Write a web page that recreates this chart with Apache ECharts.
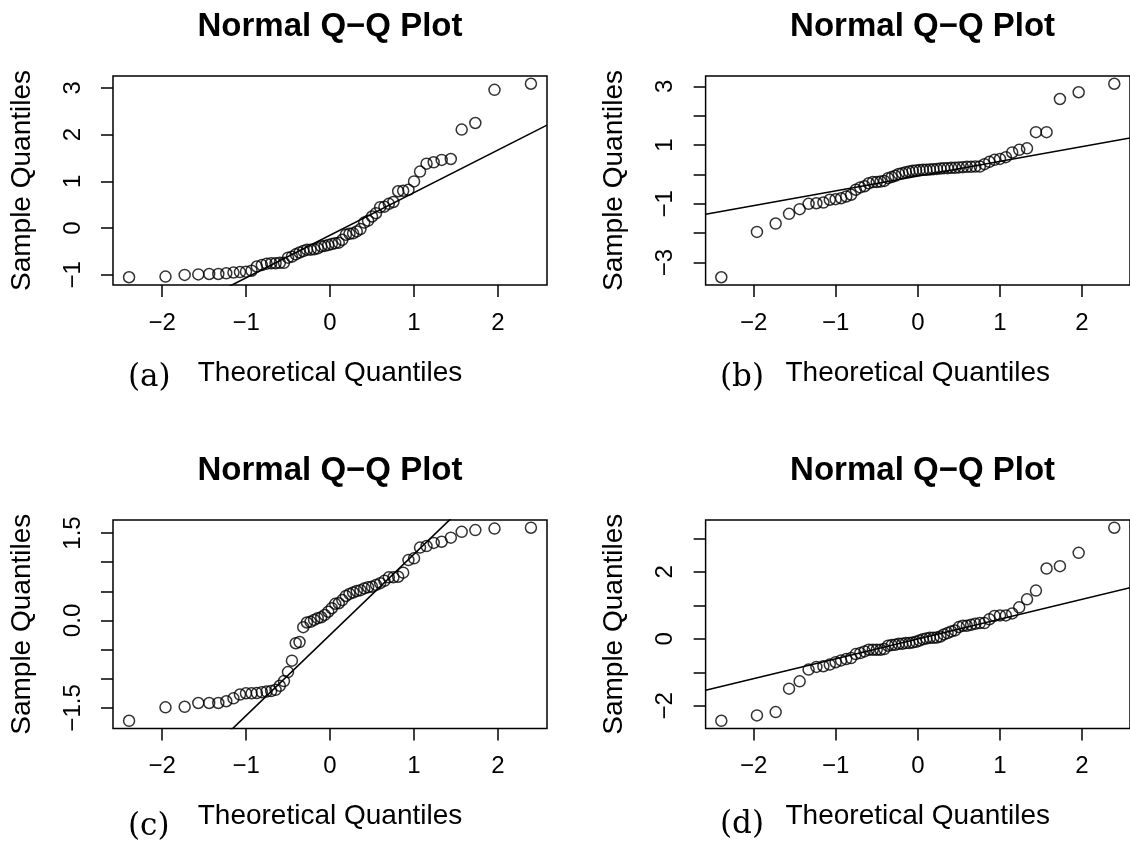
<!DOCTYPE html>
<html><head><meta charset="utf-8">
<script src="https://cdn.jsdelivr.net/npm/echarts@6/dist/echarts.min.js"></script>
<style>html,body{margin:0;padding:0;background:#fff}#c{width:1130px;height:841px}</style>
</head><body><div id="c"></div>
<script>
// Theoretical normal quantiles for n = 60 (same for every panel)
const theoreticalQuantiles = [
 -2.3940,-1.9600,-1.7317,-1.5689,-1.4395,-1.3307,-1.2357,-1.1503,-1.0728,-1.0014,
 -0.9346,-0.8718,-0.8122,-0.7554,-0.7010,-0.6485,-0.5978,-0.5485,-0.5006,-0.4538,
 -0.4080,-0.3630,-0.3186,-0.2751,-0.2319,-0.1891,-0.1467,-0.1046,-0.0627,-0.0209,
  0.0209, 0.0627, 0.1046, 0.1467, 0.1891, 0.2319, 0.2751, 0.3186, 0.3630, 0.4080,
  0.4538, 0.5006, 0.5485, 0.5978, 0.6485, 0.7010, 0.7554, 0.8122, 0.8718, 0.9346,
  1.0014, 1.0728, 1.1503, 1.2357, 1.3307, 1.4395, 1.5689, 1.7317, 1.9600, 2.3940];

const sampleA = [
 -1.05,-1.036,-1.00,-0.99,-0.98,-0.98,-0.965,-0.95,-0.94,-0.93,
 -0.91,-0.82,-0.79,-0.76,-0.75,-0.75,-0.74,-0.74,-0.63,-0.61,
 -0.56,-0.52,-0.49,-0.46,-0.46,-0.45,-0.43,-0.39,-0.38,-0.36,
 -0.34,-0.32,-0.31,-0.25,-0.14,-0.12,-0.11,-0.07,-0.02,0.12,
  0.16,0.25,0.32,0.45,0.46,0.52,0.56,0.79,0.80,0.82,
  1.00,1.21,1.38,1.41,1.46,1.48,2.11,2.25,2.96,3.09];

const sampleB = [
 -3.50,-1.955,-1.67,-1.34,-1.18,-1.00,-0.98,-0.955,-0.86,-0.84,
 -0.81,-0.75,-0.69,-0.52,-0.44,-0.40,-0.30,-0.26,-0.26,-0.24,
 -0.22,-0.125,-0.09,-0.045,0.02,0.045,0.08,0.10,0.125,0.136,
  0.15,0.16,0.16,0.17,0.18,0.19,0.20,0.215,0.215,0.227,
  0.227,0.24,0.25,0.26,0.26,0.27,0.27,0.35,0.43,0.50,
  0.53,0.59,0.75,0.84,0.89,1.44,1.44,2.57,2.80,3.09];

const sampleC = [
 -1.72,-1.49,-1.48,-1.415,-1.415,-1.415,-1.385,-1.335,-1.27,-1.25,
 -1.25,-1.245,-1.23,-1.22,-1.21,-1.19,-1.12,-1.04,-0.885,-0.69,
 -0.39,-0.37,-0.115,-0.035,-0.024,0.01,0.04,0.055,0.095,0.15,
  0.21,0.285,0.295,0.35,0.42,0.455,0.48,0.505,0.52,0.55,
  0.57,0.58,0.61,0.64,0.68,0.74,0.74,0.75,0.82,1.035,
  1.065,1.25,1.275,1.33,1.35,1.42,1.52,1.55,1.575,1.59];

const sampleD = [
 -2.45,-2.29,-2.19,-1.49,-1.27,-0.92,-0.84,-0.82,-0.77,-0.70,
 -0.645,-0.605,-0.575,-0.456,-0.427,-0.377,-0.327,-0.327,-0.327,-0.327,
 -0.307,-0.208,-0.188,-0.179,-0.149,-0.149,-0.129,-0.129,-0.109,-0.089,
 -0.05,-0.01,0.01,0.03,0.03,0.04,0.07,0.13,0.17,0.22,
  0.25,0.35,0.39,0.39,0.42,0.45,0.47,0.47,0.585,0.685,
  0.70,0.70,0.76,0.94,1.18,1.44,2.10,2.17,2.57,3.32];

// reference lines (qqline)
const lineIntercepts = [-0.151, -0.056, -0.248, -0.006];
const lineSlopes     = [0.911, 0.502, 1.384, 0.593];

const xTicks = [-2, -1, 0, 1, 2];
const yTicksA = [-1, 0, 1, 2, 3],              yLabelsA = [-1, 0, 1, 2, 3];
const yTicksB = [-3, -2, -1, 0, 1, 2, 3],      yLabelsB = [-3, -1, 1, 3];
const yTicksC = [-1.5, -1, -0.5, 0, 0.5, 1, 1.5], yLabelsC = [-1.5, 0, 1.5];
const yTicksD = [-2, -1, 0, 1, 2, 3],          yLabelsD = [-2, 0, 2];
const subcaptions = ['(a)', '(b)', '(c)', '(d)'];
const plotTitle = 'Normal Q\u2212Q Plot';
const xName = 'Theoretical Quantiles';
const yName = 'Sample Quantiles';

const samples = [sampleA, sampleB, sampleC, sampleD];
const yTicks = [yTicksA, yTicksB, yTicksC, yTicksD];
const yLabels = [yLabelsA, yLabelsB, yLabelsC, yLabelsD];
const yDecimals = [0, 0, 1, 0];

// layout
const grids = [
  {left: 113,   top: 76,  width: 434, height: 209},
  {left: 705.6, top: 76,  width: 434, height: 209},
  {left: 113,   top: 520, width: 434, height: 208.5},
  {left: 705.6, top: 520, width: 434, height: 208.5}
];
const subPos = [[128, 378], [720, 378], [128, 827], [720, 825]];

const SANS = '"Liberation Sans", Arial, sans-serif';
function rangeOf(arr) {
  const mn = Math.min(...arr), mx = Math.max(...arr), d = (mx - mn) * 0.04;
  return [mn - d, mx + d];
}
function fmt(v, dec) {
  const s = dec ? Number(v).toFixed(dec) : String(v);
  return s.replace('-', '\u2212');
}

const xAxes = [], yAxes = [], series = [], graphics = [];
const xr = rangeOf(theoreticalQuantiles);
for (let i = 0; i < 4; i++) {
  const yr = rangeOf(samples[i]);
  const g = grids[i];
  xAxes.push({
    gridIndex: i, type: 'value', min: xr[0], max: xr[1],
    name: xName, nameLocation: 'middle', nameGap: 74,
    nameTextStyle: {fontFamily: SANS, fontSize: 28, color: '#000'},
    axisLine: {show: false, onZero: false},
    axisTick: {show: true, inside: false, length: 12, customValues: xTicks, lineStyle: {color: '#000', width: 1.5}},
    axisLabel: {show: true, customValues: xTicks, margin: 26, fontFamily: SANS, fontSize: 24, color: '#000',
      formatter: v => fmt(v, 0)},
    splitLine: {show: false}
  });
  const dec = yDecimals[i];
  yAxes.push({
    gridIndex: i, type: 'value', min: yr[0], max: yr[1],
    name: yName, nameLocation: 'middle', nameGap: 77, nameRotate: 90,
    nameTextStyle: {fontFamily: SANS, fontSize: 28, color: '#000'},
    axisLine: {show: false, onZero: false},
    axisTick: {show: true, inside: false, length: 12, customValues: yTicks[i], lineStyle: {color: '#000', width: 1.5}},
    axisLabel: {show: true, customValues: yLabels[i], rotate: 90, margin: 28, fontFamily: SANS, fontSize: 24, color: '#000',
      formatter: v => fmt(v, dec)},
    splitLine: {show: false}
  });
  series.push({
    type: 'scatter', xAxisIndex: i, yAxisIndex: i,
    data: theoreticalQuantiles.map((q, k) => [q, samples[i][k]]),
    symbol: 'circle', symbolSize: 11,
    itemStyle: {color: 'rgba(0,0,0,0)', borderColor: '#000', borderWidth: 1.5},
    emphasis: {disabled: true}, silent: true
  });
  series.push({
    type: 'line', xAxisIndex: i, yAxisIndex: i, clip: true,
    data: [[xr[0], lineIntercepts[i] + lineSlopes[i] * xr[0]], [xr[1], lineIntercepts[i] + lineSlopes[i] * xr[1]]],
    showSymbol: false, symbol: 'none',
    lineStyle: {color: '#000', width: 1.6},
    emphasis: {disabled: true}, silent: true
  });
  graphics.push({
    type: 'text',
    x: g.left + g.width / 2, y: g.top - 49,
    style: {text: plotTitle, font: 'bold 33px ' + SANS, fill: '#000', textAlign: 'center', textVerticalAlign: 'middle'}
  });
  graphics.push({
    type: 'text',
    x: subPos[i][0], y: subPos[i][1],
    style: {text: subcaptions[i], font: '31px "DejaVu Serif", serif', fill: '#000', textAlign: 'left', textVerticalAlign: 'middle'}
  });
}

const chart = echarts.init(document.getElementById('c'), null, {renderer: 'canvas'});
chart.setOption({
  animation: false,
  backgroundColor: '#fff',
  grid: grids.map(g => Object.assign({show: true, borderColor: '#000', borderWidth: 1.5, backgroundColor: 'transparent', containLabel: false}, g)),
  xAxis: xAxes,
  yAxis: yAxes,
  series: series,
  graphic: graphics
});
</script>
</body></html>
